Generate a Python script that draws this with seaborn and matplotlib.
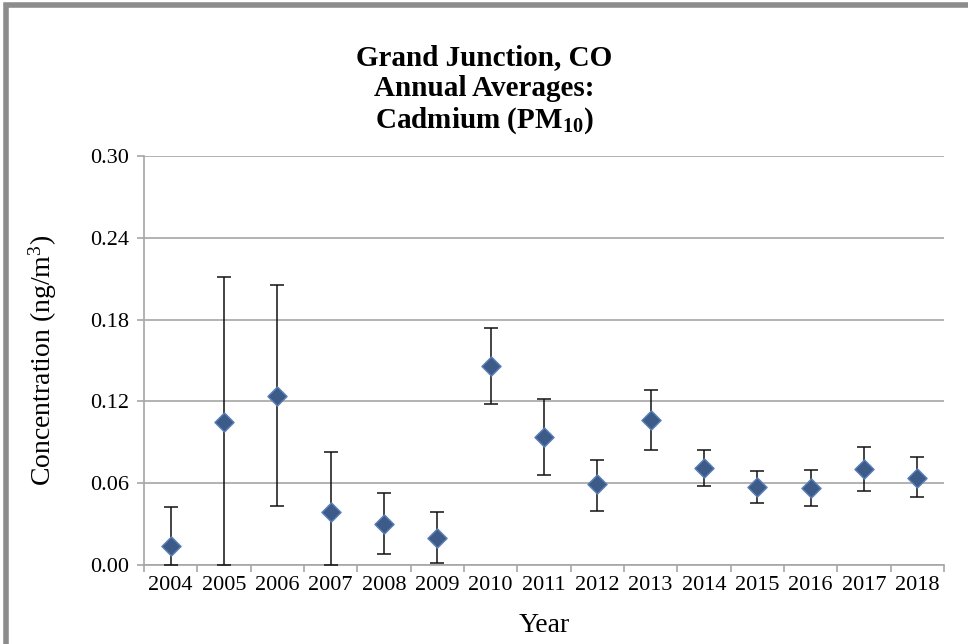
import numpy as np
import pandas as pd
import seaborn as sns
import matplotlib.pyplot as plt
from matplotlib.patches import Rectangle

# Annual averages with 95% confidence interval bounds
years = ['2004', '2005', '2006', '2007', '2008', '2009', '2010', '2011',
         '2012', '2013', '2014', '2015', '2016', '2017', '2018']
means = [0.0142, 0.1052, 0.1242, 0.0391, 0.0303, 0.0200, 0.1462, 0.0939,
         0.0592, 0.1066, 0.0709, 0.0575, 0.0565, 0.0702, 0.0641]
lower = [0.0000, 0.0000, 0.0433, 0.0000, 0.0081, 0.0012, 0.1181, 0.0660,
         0.0399, 0.0846, 0.0580, 0.0452, 0.0430, 0.0543, 0.0499]
upper = [0.0428, 0.2110, 0.2054, 0.0831, 0.0526, 0.0387, 0.1741, 0.1218,
         0.0773, 0.1286, 0.0846, 0.0692, 0.0699, 0.0866, 0.0790]
yticks = [0.00, 0.06, 0.12, 0.18, 0.24, 0.30]

df = pd.DataFrame({'Year': years, 'Mean': means, 'Low': lower, 'High': upper})
df['pos'] = np.arange(len(df))

sns.set_style('white')
plt.rcParams['font.family'] = ['Liberation Serif', 'DejaVu Serif']
plt.rcParams['mathtext.fontset'] = 'custom'
plt.rcParams['mathtext.rm'] = 'Liberation Serif'
plt.rcParams['mathtext.bf'] = 'Liberation Serif:bold'
plt.rcParams['mathtext.it'] = 'Liberation Serif:italic'
plt.rcParams['text.color'] = 'black'
plt.rcParams['axes.labelcolor'] = 'black'
plt.rcParams['xtick.labelcolor'] = 'black'
plt.rcParams['ytick.labelcolor'] = 'black'

fig = plt.figure(figsize=(9.68, 6.44), dpi=100)
ax = fig.add_axes([0.1488, 0.1227, 0.8264, 0.6351])

grid_col = '#a6a6a6'

# error bars (confidence intervals)
ax.errorbar(df['pos'], df['Mean'],
            yerr=[df['Mean'] - df['Low'], df['High'] - df['Mean']],
            fmt='none', ecolor='#111111', elinewidth=1.1, capsize=4.8,
            capthick=1.1, zorder=3)

sns.scatterplot(data=df, x='pos', y='Mean', marker='D', s=95,
                color='#3c5b88', edgecolor='#5b80b8', linewidth=1.0,
                ax=ax, zorder=4, legend=False)

ax.set_ylim(0, 0.30)
ax.set_xlim(-0.5, len(years) - 0.5)
ax.set_yticks(yticks)
ax.set_yticklabels([f'{v:.2f}' for v in yticks])
ax.set_xticks(df['pos'])
ax.set_xticklabels(years)
ax.set_xticks(np.arange(-0.5, len(years)), minor=True)

ax.yaxis.grid(True, color=grid_col, linewidth=1.2)
ax.set_axisbelow(True)
for s in ['top', 'right']:
    ax.spines[s].set_visible(False)
for s in ['left', 'bottom']:
    ax.spines[s].set_color(grid_col)
    ax.spines[s].set_linewidth(1.2)

ax.tick_params(axis='y', which='major', direction='out', length=5,
               color=grid_col, width=1.2, labelsize=16, pad=6, left=True)
ax.tick_params(axis='x', which='major', length=0, labelsize=16, pad=8)
ax.tick_params(axis='x', which='minor', direction='out', length=5,
               color=grid_col, width=1.2, bottom=True)

ax.set_xlabel('Year', fontsize=20, labelpad=13)
ax.set_ylabel(r'Concentration (ng/m$^{\mathrm{3}}$)', fontsize=20, labelpad=22)

# three-line title
fig.text(0.5, 1 - 58 / 644, 'Grand Junction, CO', ha='center', va='center',
         fontsize=21, fontweight='bold')
fig.text(0.5, 1 - 89 / 644, 'Annual Averages:', ha='center', va='center',
         fontsize=21, fontweight='bold')
fig.text(0.5, 1 - 121 / 644, r'Cadmium (PM$_{\mathbf{10}}$)', ha='center',
         va='center', fontsize=21, fontweight='bold')

# gray frame around the figure (left and top edges visible)
fig.add_artist(Rectangle((5.5 / 968, -0.5), 2, 1.5 - 4.5 / 644,
                         transform=fig.transFigure, fill=False,
                         edgecolor='#8c8c8c', linewidth=4, clip_on=False))

fig.savefig('out.png', dpi=100)
